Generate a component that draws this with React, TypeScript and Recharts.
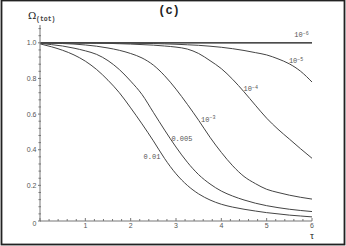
import React from 'react';
import { LineChart, Line, XAxis, YAxis, ReferenceDot } from 'recharts';

// tau grid shared by all curves
const tau = [0, 0.25, 0.5, 0.75, 1, 1.25, 1.5, 1.75, 2, 2.25, 2.5, 2.75, 3, 3.25, 3.5, 3.75, 4, 4.25, 4.5, 4.75, 5, 5.25, 5.5, 5.75, 6];

const omega1e6 = [1, 1, 1, 1, 1, 1, 1, 1, 1, 1, 1, 1, 1, 1, 1, 1, 1, 1, 1, 1, 1, 1, 1, 1, 1];
const omega1e5 = [1, 1, 1, 1, 1, 0.999, 0.999, 0.998, 0.998, 0.997, 0.996, 0.994, 0.992, 0.989, 0.986, 0.981, 0.975, 0.967, 0.957, 0.945, 0.932, 0.91, 0.882, 0.84, 0.78];
const omega1e4 = [1, 1, 1, 0.999, 0.999, 0.998, 0.997, 0.995, 0.993, 0.99, 0.987, 0.982, 0.976, 0.965, 0.94, 0.9, 0.855, 0.795, 0.725, 0.65, 0.577, 0.515, 0.46, 0.405, 0.352];
const omega1e3 = [1, 0.998, 0.996, 0.993, 0.988, 0.981, 0.971, 0.958, 0.94, 0.915, 0.875, 0.815, 0.74, 0.655, 0.565, 0.47, 0.385, 0.31, 0.25, 0.21, 0.178, 0.16, 0.145, 0.133, 0.123];
const omega005 = [0.997, 0.99, 0.982, 0.97, 0.955, 0.935, 0.9, 0.85, 0.785, 0.71, 0.61, 0.51, 0.415, 0.33, 0.26, 0.208, 0.168, 0.14, 0.118, 0.1, 0.086, 0.075, 0.066, 0.059, 0.053];
const omega01 = [0.994, 0.978, 0.958, 0.932, 0.897, 0.85, 0.79, 0.72, 0.635, 0.545, 0.45, 0.35, 0.265, 0.2, 0.152, 0.118, 0.094, 0.078, 0.066, 0.056, 0.047, 0.04, 0.033, 0.028, 0.023];

// curve annotations: base, exponent (empty = plain text), anchor in data units
const labelBase = ['10', '10', '10', '10', '0.005', '0.01'];
const labelExp = ['−6', '−5', '−4', '−3', '', ''];
const labelTau = [5.77, 5.65, 4.65, 3.71, 3.13, 2.47];
const labelOmega = [1.044, 0.898, 0.741, 0.572, 0.46, 0.359];

const xTicks = [0, 0.2, 0.4, 0.6, 0.8, 1, 1.2, 1.4, 1.6, 1.8, 2, 2.2, 2.4, 2.6, 2.8, 3, 3.2, 3.4, 3.6, 3.8, 4, 4.2, 4.4, 4.6, 4.8, 5, 5.2, 5.4, 5.6, 5.8, 6];
const yTicks = [0, 0.04, 0.08, 0.12, 0.16, 0.2, 0.24, 0.28, 0.32, 0.36, 0.4, 0.44, 0.48, 0.52, 0.56, 0.6, 0.64, 0.68, 0.72, 0.76, 0.8, 0.84, 0.88, 0.92, 0.96, 1, 1.04, 1.08];

const data = tau.map((t, i) => ({
  tau: t,
  a: omega1e6[i],
  b: omega1e5[i],
  c: omega1e4[i],
  d: omega1e3[i],
  e: omega005[i],
  f: omega01[i],
}));

const AXIS = '#777';
const INK = '#444';
const TEXT = '#555';

const isMajor = (v: number, step: number) => Math.abs(v / step - Math.round(v / step)) < 1e-6;

function XTick(props: any) {
  const { x, y, payload } = props;
  const v = payload.value as number;
  const major = isMajor(v, 1);
  return (
    <g>
      <line x1={x} x2={x} y1={y} y2={y - (major ? 3 : 2)} stroke={AXIS} strokeWidth={1} />
      {major && v > 0 && (
        <text x={x} y={y + 7} textAnchor="middle" fontSize={7} fill={TEXT} fontFamily="Liberation Sans, Arial, sans-serif">
          {v}
        </text>
      )}
    </g>
  );
}

function YTick(props: any) {
  const { x, y, payload } = props;
  const v = payload.value as number;
  const major = isMajor(v, 0.2);
  return (
    <g>
      <line x1={x - (major ? 2 : 1.5)} x2={x + 1} y1={y} y2={y} stroke={AXIS} strokeWidth={1} />
      {major && (
        <text x={x - 3.5} y={v === 0 ? y + 3 : y} dy="0.35em" textAnchor="end" fontSize={7} fill={TEXT} fontFamily="Liberation Sans, Arial, sans-serif">
          {v === 0 ? '0' : v.toFixed(1)}
        </text>
      )}
    </g>
  );
}

function curveLabel(i: number) {
  return (p: any) => {
    const vb = p.viewBox || {};
    return (
      <text x={vb.x} y={vb.y} dy="0.35em" textAnchor="middle" fontSize={7} fill={TEXT} fontFamily="Liberation Mono, DejaVu Sans Mono, monospace">
        <tspan>{labelBase[i]}</tspan>
        {labelExp[i] && (
          <tspan dy={-2.5} fontSize={5}>
            {labelExp[i]}
          </tspan>
        )}
      </text>
    );
  };
}

const series = [
  { key: 'a', color: '#111', width: 1.2 },
  { key: 'b', color: INK, width: 1 },
  { key: 'c', color: INK, width: 1 },
  { key: 'd', color: INK, width: 1 },
  { key: 'e', color: INK, width: 1 },
  { key: 'f', color: INK, width: 1 },
];

export default function App() {
  return (
    <div style={{ position: 'fixed', left: 0, top: 0, width: 346, height: 246, background: '#fff' }}>
      <LineChart width={346} height={246} data={data} margin={{ top: 25, right: 34, bottom: 0, left: 0 }}>
        <XAxis
          dataKey="tau"
          type="number"
          domain={[0, 6]}
          ticks={xTicks}
          interval={0}
          height={25}
          stroke={AXIS}
          tickLine={false}
          tickSize={0}
          tickMargin={0}
          tick={<XTick />}
        />
        <YAxis
          type="number"
          domain={[0, 1.1]}
          ticks={yTicks}
          interval={0}
          width={40}
          stroke={AXIS}
          tickLine={false}
          tickSize={0}
          tickMargin={0}
          tick={<YTick />}
        />
        {series.map((s) => (
          <Line
            key={s.key}
            type="monotone"
            dataKey={s.key}
            stroke={s.color}
            strokeWidth={s.width}
            dot={false}
            activeDot={false}
            isAnimationActive={false}
          />
        ))}
        {labelBase.map((_, i) => (
          <ReferenceDot
            key={i}
            x={labelTau[i]}
            y={labelOmega[i]}
            r={0}
            fill="none"
            stroke="none"
            label={curveLabel(i)}
          />
        ))}
      </LineChart>
      <svg width={346} height={246} style={{ position: 'absolute', left: 0, top: 0, pointerEvents: 'none' }}>
        <rect x={1.5} y={0.5} width={343} height={244} fill="none" stroke="#222" strokeWidth={1.8} />
        <text x={169} y={10} dy="0.35em" textAnchor="middle" fontSize={12} fontWeight="bold" fill="#222" fontFamily="Liberation Mono, DejaVu Sans Mono, monospace">
          (c)
        </text>
        <text x={28} y={19} fontSize={10} fill="#222" fontFamily="DejaVu Serif, Liberation Serif, serif">
          Ω
        </text>
        <text x={36} y={20.5} fontSize={6.5} fontWeight="bold" fill="#444" fontFamily="Liberation Mono, DejaVu Sans Mono, monospace">
          (tot)
        </text>
        <text x={312} y={235.5} dy="0.35em" textAnchor="middle" fontSize={10} fill="#222" fontFamily="Liberation Serif, DejaVu Serif, serif">
          τ
        </text>
      </svg>
    </div>
  );
}
